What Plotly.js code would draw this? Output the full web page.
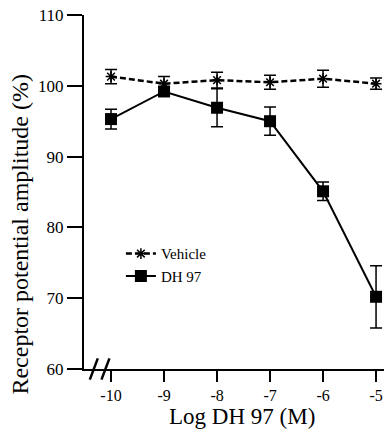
<!DOCTYPE html>
<html>
<head>
<meta charset="utf-8">
<script src="https://cdn.plot.ly/plotly-3.0.1.min.js"></script>
<style>
  html, body { margin: 0; padding: 0; background: #fff; }
  #chart { width: 384px; height: 430px; }
</style>
</head>
<body>
<div id="chart"></div>
<script>
// Concentration-response: receptor potential amplitude vs log [DH 97]
const logConc = [-10, -9, -8, -7, -6, -5];
const tickLabels = ['-10', '-9', '-8', '-7', '-6', '-5'];
const vehicleMean = [101.3, 100.3, 100.8, 100.5, 101.0, 100.3];
const vehicleErr = [1.0, 1.0, 1.1, 1.0, 1.2, 0.8];
const dhMean = [95.3, 99.2, 96.9, 95.0, 85.1, 70.2];
const dhErr = [1.4, 0.6, 2.7, 2.0, 1.3, 4.4];

const xTitle = 'Log DH 97 (M)';
const yTitle = 'Receptor potential amplitude (%)';

const serif = '"Liberation Serif", "Times New Roman", serif';

const traces = [
  {
    name: 'Vehicle',
    x: logConc, y: vehicleMean,
    type: 'scatter', mode: 'lines+markers',
    line: { color: '#000', width: 2.5, dash: '6px,3px' },
    marker: { symbol: 'asterisk-open', size: 9, color: '#000', line: { color: '#000', width: 1.5 } },
    error_y: { type: 'data', array: vehicleErr, visible: true, color: '#000', thickness: 1.5, width: 6 },
    cliponaxis: false
  },
  {
    name: 'DH 97',
    x: logConc, y: dhMean,
    type: 'scatter', mode: 'lines+markers',
    line: { color: '#000', width: 2 },
    marker: { symbol: 'square', size: 12, color: '#000' },
    error_y: { type: 'data', array: dhErr, visible: true, color: '#000', thickness: 1.5, width: 6 },
    cliponaxis: false
  }
];

// Axis break marks ("//") on the x axis near its origin
const xr = [-10.51, -4.85];
const breakShapes = [[-10.40, -10.25], [-10.18, -10.03]].map(([a, b]) => ({
  type: 'line', xref: 'x', yref: 'paper',
  x0: a, y0: -0.03, x1: b, y1: 0.03,
  line: { color: '#000', width: 2.5 }
}));

// Axis titles placed as annotations so they can sit off-centre
const titleNotes = [
  {
    text: xTitle, xref: 'paper', yref: 'paper',
    x: 0.527, y: -0.135, xanchor: 'center', yanchor: 'middle',
    showarrow: false, font: { family: serif, size: 23, color: '#000' }
  },
  {
    text: yTitle, xref: 'paper', yref: 'paper', textangle: -90,
    x: -0.213, y: 0.38, xanchor: 'center', yanchor: 'middle',
    showarrow: false, font: { family: serif, size: 24, color: '#000' }
  }
];

const layout = {
  width: 384, height: 430,
  margin: { l: 84, r: 0, t: 15, b: 61 },
  paper_bgcolor: '#fff', plot_bgcolor: '#fff',
  font: { family: serif, color: '#000', size: 16 },
  showlegend: true,
  legend: {
    x: 0.123, y: 0.372, xanchor: 'left', yanchor: 'top',
    font: { family: serif, size: 15, color: '#000' },
    bgcolor: 'rgba(0,0,0,0)', itemwidth: 30, tracegroupgap: 0
  },
  xaxis: {
    range: xr,
    tickvals: logConc, ticktext: tickLabels,
    ticks: 'outside', ticklen: 11, tickwidth: 2, tickcolor: '#000',
    showline: true, linecolor: '#000', linewidth: 2,
    showgrid: false, zeroline: false,
    tickfont: { family: serif, size: 16, color: '#000' }
  },
  yaxis: {
    range: [60, 110], dtick: 10,
    ticks: 'outside', ticklen: 15, tickwidth: 2, tickcolor: '#000',
    showline: true, linecolor: '#000', linewidth: 2,
    showgrid: false, zeroline: false,
    tickfont: { family: serif, size: 17, color: '#000' }
  },
  shapes: breakShapes,
  annotations: titleNotes
};

Plotly.newPlot('chart', traces, layout, { displayModeBar: false, staticPlot: true });
</script>
</body>
</html>
